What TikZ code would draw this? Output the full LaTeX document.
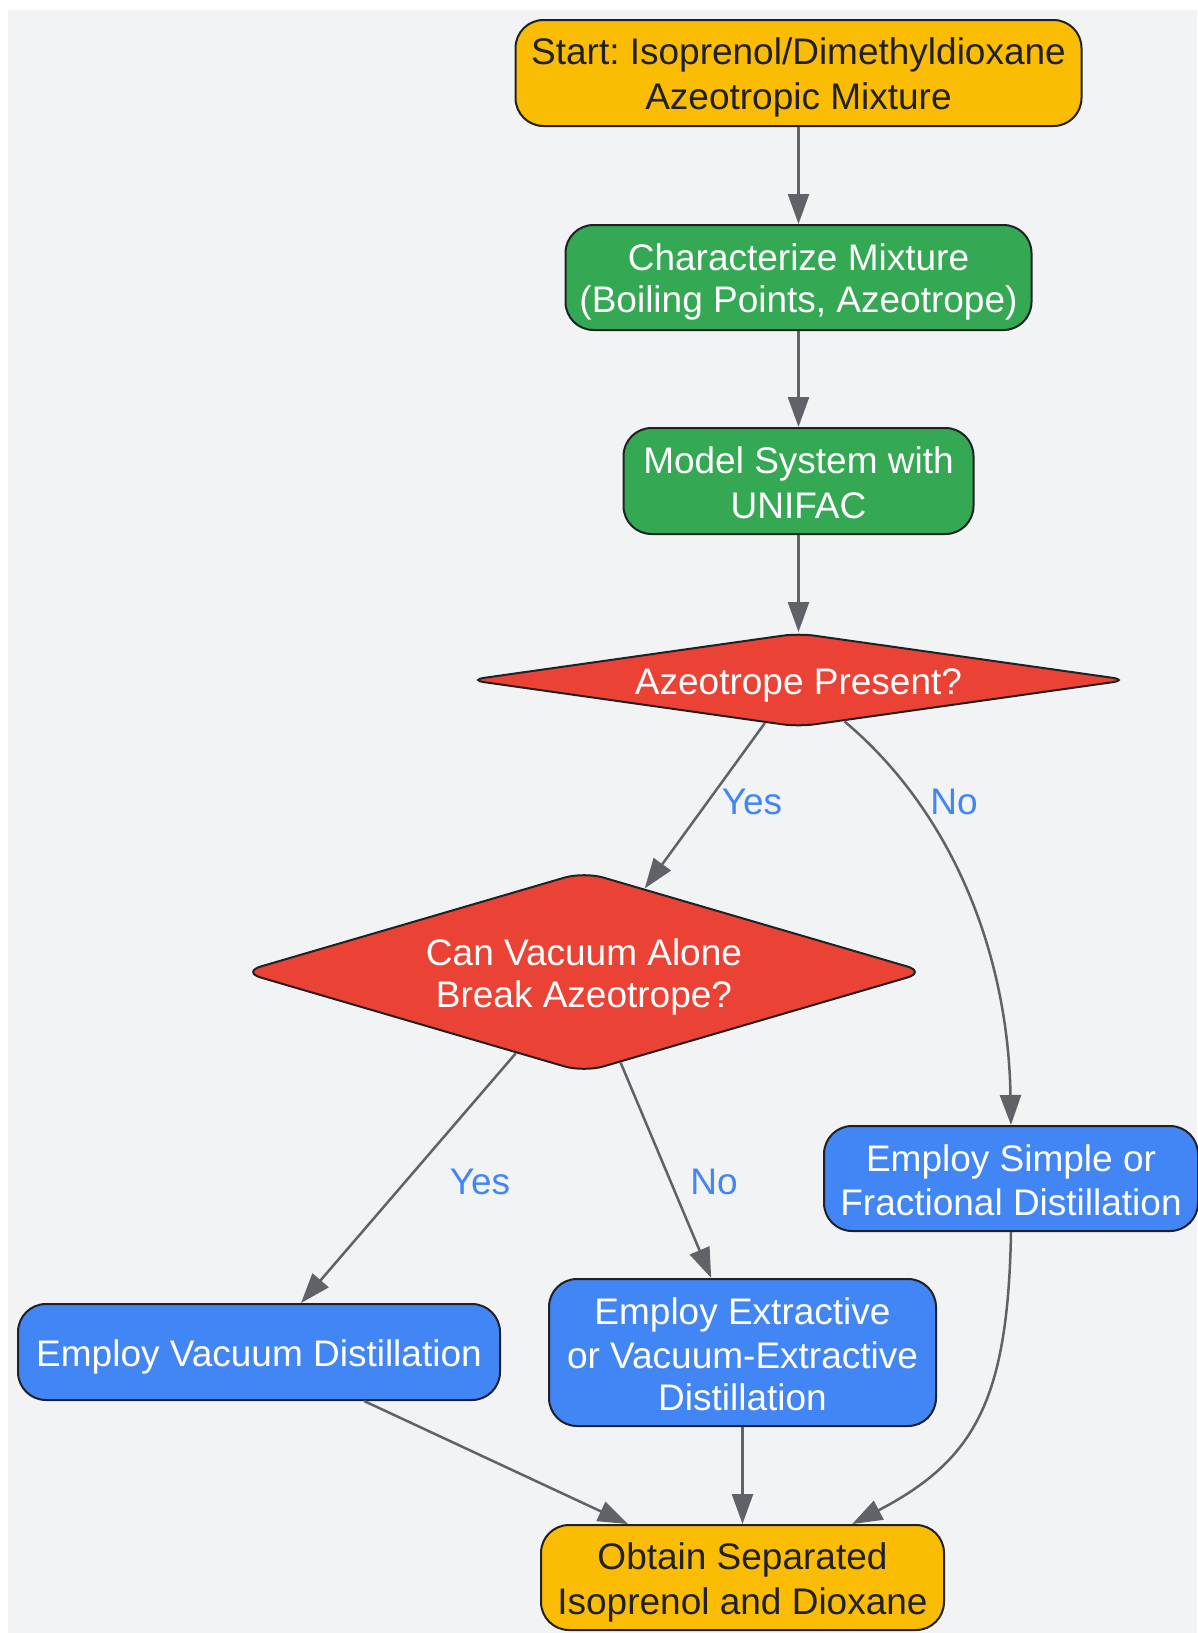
\documentclass[tikz,border=0pt]{standalone}
\usepackage{fontspec}
\setmainfont{Liberation Sans}
\usetikzlibrary{shapes.geometric,arrows.meta}
\definecolor{bg}{HTML}{F1F3F4}
\definecolor{gyellow}{HTML}{FBBC04}
\definecolor{ggreen}{HTML}{34A853}
\definecolor{gred}{HTML}{EA4335}
\definecolor{gblue}{HTML}{4285F4}
\definecolor{stroke}{HTML}{202124}
\definecolor{darktext}{HTML}{202124}
\definecolor{edgegray}{HTML}{5F6368}
\newcommand{\lnstrut}{\rule[-6pt]{0pt}{42pt}}
\frenchspacing
\begin{document}
\begin{tikzpicture}[x=1pt,y=-1pt,
  txt/.style={font=\fontsize{37}{42}\selectfont, align=center},
  box/.style={rectangle, rounded corners=28pt, draw=stroke, line width=2pt, inner sep=0pt, txt},
  startbox/.style={box, fill=gyellow, text=darktext},
  greenbox/.style={box, fill=ggreen, text=white},
  bluebox/.style={box, fill=gblue, text=white},
  dia/.style={diamond, draw=stroke, line width=2pt, fill=gred, inner sep=0pt},
  diatext/.style={txt, text=white, inner sep=0pt},
  edge/.style={draw=edgegray, line width=2.5pt, -{Triangle[length=30pt,width=21pt]}},
  lab/.style={txt, text=gblue, inner sep=0pt}
]
\useasboundingbox (0,0) rectangle (1197,1633);
\fill[bg] (8,10) rectangle (1197,1633);

\node[startbox, minimum width=566, minimum height=106] (start) at (798.5,73) {\lnstrut Start: Isoprenol/Dimethyldioxane\\\lnstrut Azeotropic Mixture};
\node[greenbox, minimum width=466, minimum height=105] (char) at (798.5,277.5) {\lnstrut Characterize Mixture\\\lnstrut (Boiling Points, Azeotrope)};
\node[greenbox, minimum width=350, minimum height=106] (model) at (798.5,481) {\lnstrut Model System with\\\lnstrut UNIFAC};
\node[dia, rounded corners=16pt, minimum width=660, minimum height=94] (d1) at (798.5,680) {};
\node[diatext] (d1t) at (798.5,680) {\lnstrut Azeotrope Present?};
\node[dia, rounded corners=20pt, minimum width=685, minimum height=201] (d2) at (584,972) {};
\node[diatext] (d2t) at (584,972) {\lnstrut Can Vacuum Alone\\\lnstrut Break Azeotrope?};
\node[bluebox, minimum width=374, minimum height=105] (simple) at (1011,1178.5) {\lnstrut Employ Simple or\\\lnstrut Fractional Distillation};
\node[bluebox, minimum width=482, minimum height=96] (vacuum) at (259,1352) {\lnstrut Employ Vacuum Distillation};
\node[bluebox, minimum width=387, minimum height=147] (extr) at (742.5,1352.5) {\lnstrut Employ Extractive\\\lnstrut or Vacuum-Extractive\\\lnstrut Distillation};
\node[startbox, minimum width=403, minimum height=105] (obtain) at (742.5,1577.5) {\lnstrut Obtain Separated\\\lnstrut Isoprenol and Dioxane};

\draw[edge] (start) -- (char);
\draw[edge] (char) -- (model);
\draw[edge] (model) -- (d1);
\draw[edge] (d1.232) -- (d2);
\draw[edge] (d1.318) .. controls (950,810) and (1008,950) .. (simple.north);
\draw[edge] (d2.230) -- (vacuum);
\draw[edge] (d2.292) -- (extr);
\draw[edge] (vacuum) -- (obtain);
\draw[edge] (extr) -- (obtain);
\draw[edge] (simple.south) .. controls (1008,1400) and (975,1460) .. (obtain.26);

\node[lab] (l1) at (752,799) {\lnstrut Yes};
\node[lab] (l2) at (954,799) {\lnstrut No};
\node[lab] (l3) at (480,1179) {\lnstrut Yes};
\node[lab] (l4) at (714,1179) {\lnstrut No};
\end{tikzpicture}
\end{document}
